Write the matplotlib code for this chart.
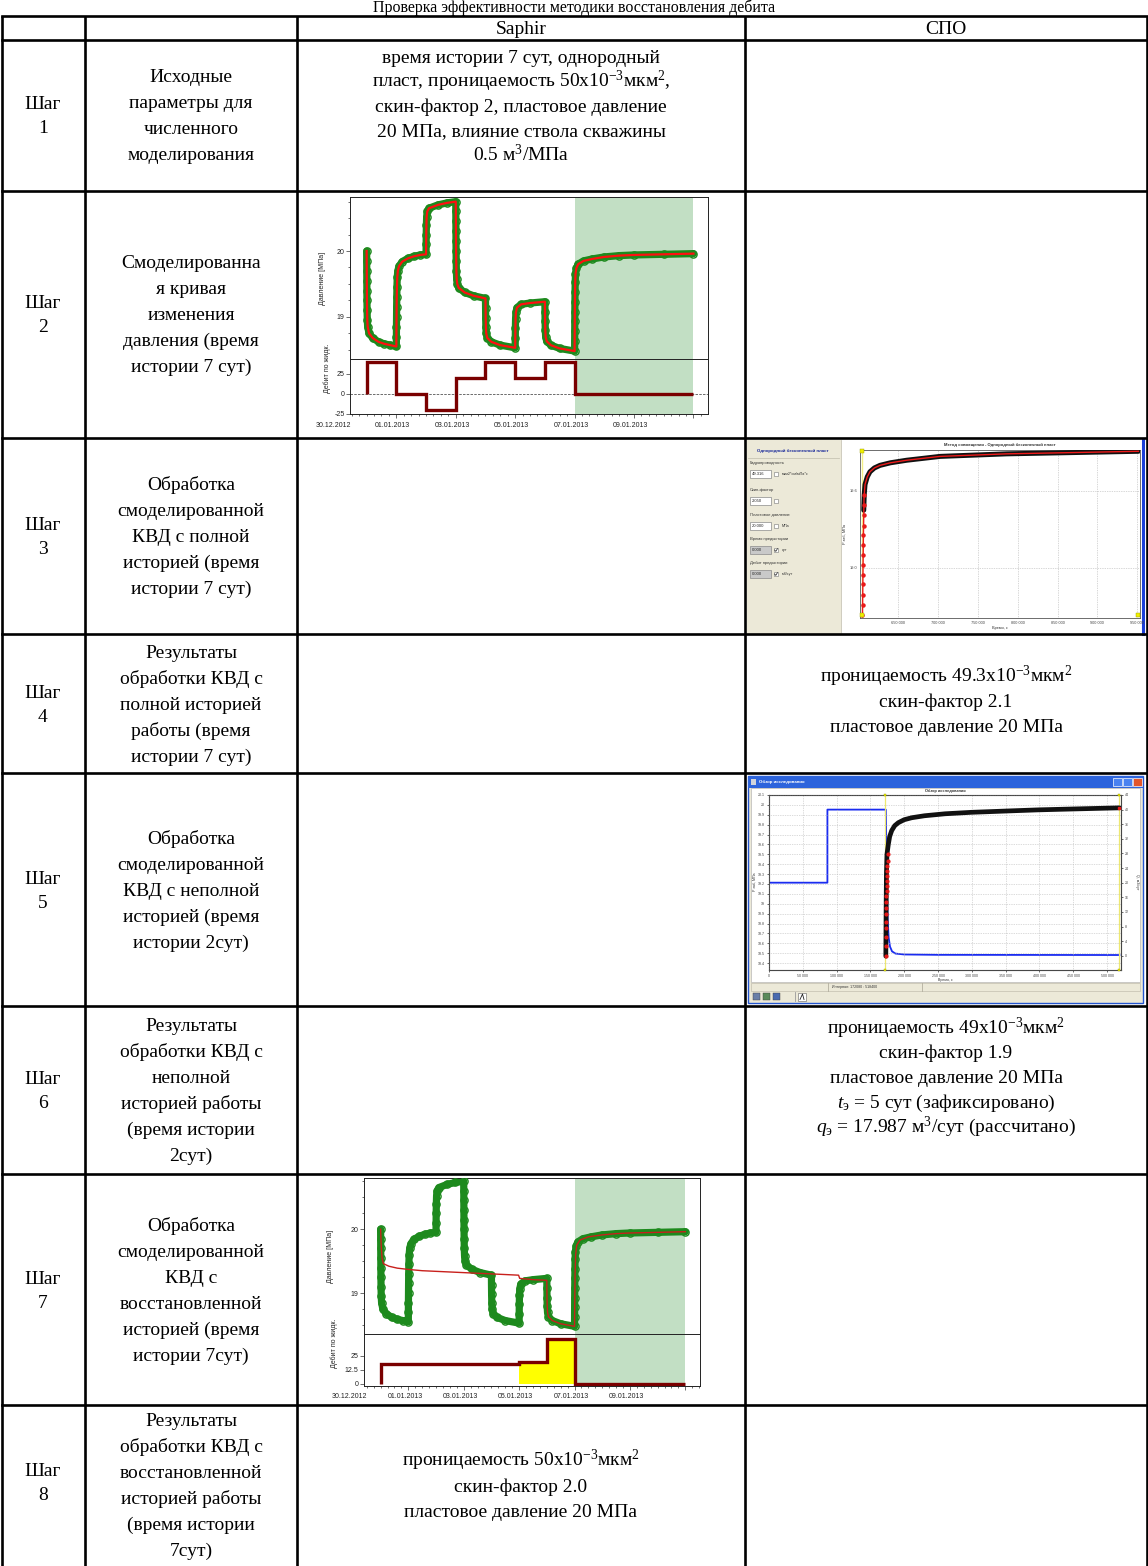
import numpy as np
import matplotlib
matplotlib.use("Agg")
import matplotlib.pyplot as plt
import matplotlib.transforms as mtrans
from matplotlib.patches import Rectangle

plt.rcParams['font.family'] = ['Liberation Sans', 'DejaVu Sans']
plt.rcParams['mathtext.fontset'] = 'custom'
plt.rcParams['mathtext.rm'] = 'Liberation Serif'
plt.rcParams['mathtext.it'] = 'Liberation Serif:italic'
plt.rcParams['mathtext.default'] = 'regular'

W, H = 1148, 1566
SERIF = 'Liberation Serif'

# ---------------------------------------------------------------- table text
TITLE = "Проверка эффективности методики восстановления дебита"
HEADERS = ["Saphir", "СПО"]
STEP_NUMBERS = ["1", "2", "3", "4", "5", "6", "7", "8"]
DESCRIPTIONS = [
    ["Исходные", "параметры для", "численного", "моделирования"],
    ["Смоделированна", "я кривая", "изменения", "давления (время", "истории 7 сут)"],
    ["Обработка", "смоделированной", "КВД с полной", "историей (время", "истории 7 сут)"],
    ["Результаты", "обработки КВД с", "полной историей", "работы (время", "истории 7 сут)"],
    ["Обработка", "смоделированной", "КВД с неполной", "историей (время", "истории 2сут)"],
    ["Результаты", "обработки КВД с", "неполной", "историей работы", "(время истории", "2сут)"],
    ["Обработка", "смоделированной", "КВД с", "восстановленной", "историей (время", "истории 7сут)"],
    ["Результаты", "обработки КВД с", "восстановленной", "историей работы", "(время истории", "7сут)"],
]
INPUT_PARAMS = [
    "время истории 7 сут, однородный",
    r"пласт, проницаемость 50x$10^{-3}$мк$м^{2}$,",
    "скин-фактор 2, пластовое давление",
    "20 МПа, влияние ствола скважины",
    r"0.5 $м^{3}$/МПа",
]
RESULT_FULL = [r"проницаемость 49.3x$10^{-3}$мк$м^{2}$", "скин-фактор 2.1",
               "пластовое давление 20 МПа"]
RESULT_PARTIAL = [r"проницаемость 49x$10^{-3}$мк$м^{2}$", "скин-фактор 1.9",
                  "пластовое давление 20 МПа",
                  r"$\mathit{t}_{э}$ = 5 сут (зафиксировано)",
                  r"$\mathit{q}_{э}$ = 17.987 $м^{3}$/сут (рассчитано)"]
RESULT_RESTORED = [r"проницаемость 50x$10^{-3}$мк$м^{2}$", "скин-фактор 2.0",
                   "пластовое давление 20 МПа"]

# ------------------------------------------- Saphir simulated pressure (days, MPa)
T_SIM = [1.000, 1.002, 1.004, 1.006, 1.008, 1.011, 1.015, 1.022, 1.035, 1.08, 1.20, 1.40, 1.60, 1.80, 2.00,
         2.002, 2.004, 2.007, 2.010, 2.014, 2.020, 2.030, 2.050, 2.09, 2.20, 2.40, 2.60, 2.80, 3.00,
         3.003, 3.006, 3.012, 3.020, 3.040, 3.10, 3.40, 3.70, 4.00,
         4.002, 4.004, 4.006, 4.008, 4.011, 4.015, 4.020, 4.030, 4.050, 4.10, 4.30, 4.60, 5.00,
         5.003, 5.007, 5.013, 5.025, 5.06, 5.20, 5.50, 6.00,
         6.003, 6.007, 6.013, 6.025, 6.06, 6.20, 6.50, 7.00,
         7.003, 7.007, 7.013, 7.025, 7.06, 7.20, 7.50, 8.00,
         8.002, 8.004, 8.006, 8.008, 8.011, 8.015, 8.020, 8.030, 8.060, 8.12, 8.30, 8.60,
         9.00, 9.50, 10.00, 11.00, 12.00]
P_SIM = [20.00, 19.85, 19.70, 19.55, 19.40, 19.25, 19.10, 18.95, 18.85, 18.75, 18.68, 18.62, 18.59, 18.57, 18.55,
         18.70, 18.85, 19.00, 19.15, 19.30, 19.45, 19.60, 19.70, 19.77, 19.84, 19.89, 19.92, 19.94, 19.95,
         20.10, 20.25, 20.40, 20.52, 20.60, 20.65, 20.70, 20.73, 20.75,
         20.60, 20.45, 20.30, 20.15, 20.00, 19.85, 19.70, 19.58, 19.50, 19.44, 19.37, 19.32, 19.28,
         19.13, 18.98, 18.85, 18.75, 18.68, 18.62, 18.57, 18.53,
         18.68, 18.83, 18.97, 19.07, 19.14, 19.19, 19.21, 19.23,
         19.08, 18.93, 18.80, 18.70, 18.63, 18.57, 18.52, 18.48,
         18.63, 18.78, 18.93, 19.08, 19.23, 19.38, 19.53, 19.65, 19.74, 19.80, 19.85, 19.88,
         19.91, 19.93, 19.94, 19.95, 19.96]

# Saphir rate history, m3/day on day intervals
Q_EDGES = [1, 2, 3, 4, 5, 6, 7, 8, 12]
Q_FULL = [40, 0, -20, 20, 40, 20, 40, 0]
# restored history (first 5 days estimated)
Q_EDGES_R = [1, 6, 7, 8, 12]
Q_RESTORED = [17.987, 20, 40, 0]
KNOWN_EDGES = [6, 7, 8]
Q_KNOWN = [20, 40]

# model with restored history (days, MPa)
T_MODEL7 = [1.00, 1.02, 1.05, 1.10, 1.30, 1.60, 2.00, 2.50, 3.00, 3.50, 4.00, 4.50, 5.00, 5.50, 5.98,
            6.02, 6.50, 7.00, 7.003, 7.007, 7.013, 7.025, 7.06, 7.20, 7.50, 8.00,
            8.01, 8.02, 8.04, 8.08, 8.20, 8.50, 9.00, 9.50, 10.00, 11.00, 12.00]
P_MODEL7 = [20.00, 19.75, 19.55, 19.46, 19.42, 19.39, 19.37, 19.35, 19.34, 19.33, 19.32, 19.31, 19.30, 19.29, 19.28,
            19.23, 19.21, 19.20, 19.08, 18.93, 18.80, 18.70, 18.63, 18.57, 18.52, 18.48,
            18.90, 19.30, 19.60, 19.75, 19.83, 19.88, 19.91, 19.93, 19.94, 19.95, 19.96]

DATE_TICKS = [0, 2, 4, 6, 8, 10]
DATE_LABELS = ["30.12.2012", "01.01.2013", "03.01.2013", "05.01.2013", "07.01.2013", "09.01.2013"]

# ------------------------------------- СПО: build-up with full history (s, MPa)
T3_MODEL = [605000, 605150, 605300, 605450, 605600, 605750, 605900, 606050, 606200,
            606400, 606600, 606800, 607000]
P3_MODEL = [18.63, 18.71, 18.79, 18.87, 18.94, 19.02, 19.10, 19.18, 19.26, 19.33, 19.41, 19.49, 19.57]
T3_MEAS = [606600, 607200, 608200, 611000, 614400, 620000, 627000, 640000, 660500,
           702400, 786200, 869900, 951600]
P3_MEAS = [19.45, 19.57, 19.65, 19.71, 19.75, 19.78, 19.80, 19.82, 19.84, 19.87, 19.89, 19.90, 19.91]
PANEL3_LABELS = ["Гидропроводность", "Скин-фактор", "Пластовое давление",
                 "Время предыстории", "Дебит предыстории"]
PANEL3_VALUES = ["49.316", "2.050", "20.000", "0.000", "0.000"]
PANEL3_UNITS = ["мкм2*см/мПа*с", "", "МПа", "сут", "м3/сут"]
PANEL3_FIXED = [False, False, False, True, True]

# ------------------------------------- СПО: build-up with partial history
T5_RATE = [0, 86400, 86400, 172800, 173500, 174500, 175500, 177000, 179000, 182000,
           187000, 200000, 250000, 518400]
Q5_RATE = [20, 20, 40, 40, 30, 18, 10, 5, 2.5, 1.2, 0.6, 0.35, 0.25, 0.2]
T5_MEAS = [172800, 173200, 173700, 174500, 176500, 178500, 181500, 186000, 191300,
           200000, 211100, 230000, 260400, 300000, 359000, 400000, 457600, 518400]
P5_MEAS = [18.47, 18.90, 19.30, 19.50, 19.60, 19.68, 19.74, 19.79, 19.82,
           19.85, 19.87, 19.89, 19.91, 19.925, 19.94, 19.95, 19.96, 19.97]
T5_MODEL = [172900, 173000, 173100, 173200, 173300, 173400, 173500, 173650, 173800,
            173950, 174100, 174300, 174500, 174800, 175100, 175500, 176000, 518400]
P5_MODEL = [18.47, 18.57, 18.66, 18.75, 18.82, 18.90, 18.96, 19.02, 19.08,
            19.13, 19.18, 19.23, 19.28, 19.33, 19.38, 19.43, 19.50, 19.97]

# ============================================================== figure
fig = plt.figure(figsize=(W / 100, H / 100), dpi=100)
base = fig.add_axes([0, 0, 1, 1])
base.set_xlim(0, W)
base.set_ylim(H, 0)
base.axis('off')


def px_axes(x0, y0, x1, y1):
    return fig.add_axes([x0 / W, 1 - y1 / H, (x1 - x0) / W, (y1 - y0) / H])


def cell_text(x, y_first, lines, step, size=14, **kw):
    for i, s in enumerate(lines):
        base.text(x, y_first + i * step, s, ha='center', va='baseline',
                  fontsize=size, family=SERIF, **kw)


# ---- table grid
COLS = [1.5, 85, 297, 745, 1146.5]
TOP = 16
ROWS = [40, 191, 438, 634, 773, 1006, 1174, 1405]
LW = 1.9
for x in COLS:
    base.plot([x, x], [TOP, H + 5], color='black', lw=LW, solid_capstyle='butt', zorder=5)
for y in [TOP] + ROWS:
    base.plot([COLS[0], COLS[-1]], [y, y], color='black', lw=LW, solid_capstyle='projecting', zorder=5)

base.text(574, 11.5, TITLE, ha='center', va='baseline', fontsize=11.5, family=SERIF)
base.text(521, 34, HEADERS[0], ha='center', va='baseline', fontsize=14, family=SERIF)
base.text(946, 34, HEADERS[1], ha='center', va='baseline', fontsize=14, family=SERIF)

step_centers = [115, 314, 536, 704, 890, 1090, 1290, 1482]
for c, num, desc in zip(step_centers, STEP_NUMBERS, DESCRIPTIONS):
    cell_text(43, c - 6, ["Шаг", num], 24)
    n = len(desc)
    first = c - (n - 1) * 13 + 6
    if num == "8":
        first = 1426
    cell_text(191, first, desc, 26)

cell_text(521, 63, INPUT_PARAMS, 24.5)
cell_text(946, 682, RESULT_FULL, 25)
cell_text(946, 1034, RESULT_PARTIAL, 24.5)
cell_text(521, 1466, RESULT_RESTORED, 25.5)

# ============================================================ Saphir panels
SHADE = '#c2dfc4'
GREEN = '#1d8a1d'
DARKRED = '#7a0000'


def saphir_frame(ax):
    for s in ax.spines.values():
        s.set_linewidth(0.7)
        s.set_color('#222222')
    ax.tick_params(which='both', direction='out', labelsize=5, width=0.5,
                   color='#333333', pad=1, labelcolor='#222222')
    ax.tick_params(which='major', length=3)
    ax.tick_params(which='minor', length=1.6)


def saphir_chart(pbox, qbox, xlim, plim, qlim, qticks, qlabels, shade_to,
                 p_label_x, q_label_x, model=None, restored=False):
    axp = px_axes(*pbox)
    axq = px_axes(*qbox)
    for ax in (axp, axq):
        ax.set_xlim(*xlim)
        ax.axvspan(8, shade_to, color=SHADE, lw=0, zorder=0)
        saphir_frame(ax)
    axp.set_ylim(*plim)
    axp.plot(T_SIM, P_SIM, color=GREEN, lw=5.2, zorder=2, solid_capstyle='round')
    axp.plot(T_SIM, P_SIM, ls='none', marker='o', ms=5.2, mfc='none', mec=GREEN,
             mew=1.0, zorder=3)
    if model is None:
        axp.plot(T_SIM, P_SIM, color='#ff1010', lw=1.6, zorder=4)
    else:
        axp.plot(model[0], model[1], color='#c8201c', lw=1.0, zorder=4)
    axp.set_xticks([])
    axp.set_yticks([19, 20])
    axp.set_yticks(np.arange(18.5, 20.8, 0.25), minor=True)

    axq.set_ylim(*qlim)
    if restored:
        axq.stairs(Q_KNOWN, KNOWN_EDGES, baseline=0, fill=True, color='#ffff00', zorder=1)
        axq.stairs(Q_RESTORED, Q_EDGES_R, baseline=0, color=DARKRED, lw=2.4, zorder=3)
    else:
        axq.axhline(0, color='#555555', lw=0.6, ls=(0, (3, 1.5)), zorder=1)
        axq.stairs(Q_FULL, Q_EDGES, baseline=0, color=DARKRED, lw=2.4, zorder=3)
    axq.set_yticks(qticks)
    axq.set_yticklabels(qlabels)
    axq.set_xticks([t for t in range(2, 13, 2)])
    axq.set_xticklabels([])
    axq.set_xticks(np.arange(0.5, xlim[1], 0.25), minor=True)
    tr = mtrans.blended_transform_factory(axq.transData, axq.transAxes)
    for t, lab in zip(DATE_TICKS, DATE_LABELS):
        axq.text(t - 0.12, -0.21, lab, transform=tr, ha='center', va='center',
                 fontsize=5, color='#222222', clip_on=False)

    yc = (pbox[1] + pbox[3]) / 2
    base.text(p_label_x, yc, "Давление [МПа]", rotation=90, ha='center', va='center',
              fontsize=5, color='#222222')
    lab = base.text(q_label_x, qbox[1] + 9, "Дебит по жидк.", rotation=90,
                    ha='center', va='center', fontsize=5, color='#222222')
    clip = Rectangle((q_label_x - 8, qbox[1] + 1), 16, qbox[3] - qbox[1],
                     transform=base.transData)
    lab.set_clip_path(clip)
    return axp, axq


# step 2: simulated curve
saphir_chart((350, 197, 708, 359), (350, 359, 708, 414), (0.44, 12.49),
             (18.36, 20.82), (-25, 43.75), [-25, 0, 25], ["-25", "0", "25"], 12,
             322, 327)

# step 7: processing with restored history
saphir_chart((364, 1178, 700, 1334), (364, 1334, 700, 1386), (0.40, 12.53),
             (18.36, 20.80), (-1.8, 44.6), [0, 12.5, 25], ["0", "12.5", "25"], 12,
             331, 334, model=(T_MODEL7, P_MODEL7), restored=True)

# ============================================================ СПО screenshots
PANEL = '#ece9d8'
SMALL = 3.0

# ---- step 3: matching window
base.add_patch(Rectangle((746.5, 439.5), 94, 194, fc=PANEL, ec='none', zorder=1))
base.add_patch(Rectangle((840.5, 439.5), 300, 194, fc='white', ec='none', zorder=1))
base.plot([840.5, 840.5], [440, 633], color='#c8c4b4', lw=0.6, zorder=2)
base.plot([748, 839], [458, 458], color='#c8c4b4', lw=0.6, zorder=2)
base.text(793, 451, "Однородный бесконечный пласт", ha='center', va='center',
          fontsize=3.2, color='#1a2a9a', fontweight='bold', zorder=3)
label_y = [463, 490, 515, 539, 563]
for y, lab, val, unit, fixed in zip(label_y, PANEL3_LABELS, PANEL3_VALUES,
                                    PANEL3_UNITS, PANEL3_FIXED):
    base.text(750, y, lab, ha='left', va='center', fontsize=SMALL, color='#333333', zorder=3)
    base.add_patch(Rectangle((750, y + 7), 21, 8, fc='#c9c9c9' if fixed else 'white',
                             ec='#8a8a8a', lw=0.5, zorder=3))
    base.text(752, y + 11, val, ha='left', va='center', fontsize=SMALL, color='#222222', zorder=4)
    base.add_patch(Rectangle((774, y + 9), 4, 4, fc='white', ec='#777777', lw=0.4, zorder=3))
    if fixed:
        base.plot([774.6, 775.8, 777.5], [y + 11, y + 12.4, y + 9.6], color='#222222', lw=0.5, zorder=4)
    if unit:
        base.text(782, y + 11, unit, ha='left', va='center', fontsize=2.7, color='#333333', zorder=3)

ax3 = px_axes(860, 450, 1140, 618)
ax3.set_xlim(601900, 953600)
ax3.set_ylim(18.608, 19.92)
for s in ax3.spines.values():
    s.set_linewidth(0.6)
    s.set_color('#555555')
ax3.set_xticks(np.arange(650000, 950001, 50000))
ax3.set_xticklabels([f"{int(v):,}".replace(",", " ") for v in np.arange(650000, 950001, 50000)])
ax3.set_yticks([19.0, 19.6])
ax3.set_yticklabels(["19.0", "19.6"])
ax3.tick_params(labelsize=2.8, length=0, pad=2, labelcolor='#444444')
ax3.grid(True, color='#b0b0b0', lw=0.5, ls=(0, (1, 1.5)))
ax3.axvline(605000, color='#f4f088', lw=1.0, zorder=2)
ax3.plot(T3_MEAS, P3_MEAS, color='#111111', lw=3.6, zorder=3, solid_capstyle='round')
ax3.plot(T3_MODEL + T3_MEAS[1:], P3_MODEL + P3_MEAS[1:], color='#ee1a1a', lw=1.0, zorder=4)
ax3.plot(T3_MODEL, P3_MODEL, ls='none', marker='o', ms=2.2, color='#e81818', zorder=5)
ax3.plot([605000, 605000, 951600], [19.91, 18.63, 18.63], ls='none', marker='s', ms=2.2,
         mfc='#f0f000', mec='#999900', mew=0.3, zorder=6, clip_on=False)
base.text(1000, 445, "Метод совмещения - Однородный бесконечный пласт", ha='center',
          va='center', fontsize=3.0, fontweight='bold', color='#333333', zorder=3)
base.text(845, 534, "P заб, МПа", rotation=90, ha='center', va='center', fontsize=2.8,
          color='#333333', zorder=3)
base.text(1000, 628.5, "Время, с", ha='center', va='center', fontsize=2.8, color='#333333', zorder=3)
base.plot([1142.5, 1142.5], [439, 634], color='#1c3fd8', lw=2.2, zorder=4)

# ---- step 5: survey overview window
wx0, wy0, wx1, wy1 = 748, 775.5, 1143, 1003
base.add_patch(Rectangle((wx0, wy0), wx1 - wx0, wy1 - wy0, fc=PANEL, ec='#2456d0', lw=1.0, zorder=1))
base.add_patch(Rectangle((wx0, wy0), wx1 - wx0, 12, fc='#2d64dc', ec='none', zorder=2))
base.add_patch(Rectangle((751, wy0 + 3), 5, 6, fc='#d0d4dc', ec='none', zorder=3))
base.text(759, wy0 + 6, "Обзор исследования", ha='left', va='center', fontsize=3.2,
          color='white', fontweight='bold', zorder=3)
for bx, col in ((1113, '#4a82f0'), (1123, '#4a82f0'), (1133, '#e2562c')):
    base.add_patch(Rectangle((bx, wy0 + 2), 8.5, 8, fc=col, ec='white', lw=0.5, zorder=3))
base.add_patch(Rectangle((751, 788), 389, 194, fc='white', ec='#a8a8a8', lw=0.4, zorder=2))
base.add_patch(Rectangle((751, 983), 389, 8, fc=PANEL, ec='#b8b4a4', lw=0.4, zorder=2))
base.plot([828, 828], [983, 991], color='#a8a494', lw=0.5, zorder=3)
base.plot([922, 922], [983, 991], color='#a8a494', lw=0.5, zorder=3)
base.text(832, 987, "Интервал: 172080 : 518400", ha='left', va='center', fontsize=2.6,
          color='#333333', zorder=3)
for ix, col in ((753, '#6a7fa8'), (763, '#5a8a5a'), (773, '#4a6ab0')):
    base.add_patch(Rectangle((ix, 993), 7, 6.5, fc=col, ec='#404040', lw=0.3, zorder=3))
base.plot([795, 795], [992, 1001], color='#9a9a9a', lw=0.6, zorder=3)
base.add_patch(Rectangle((798, 992.5), 8, 8, fc='white', ec='#606060', lw=0.4, zorder=3))
base.plot([800, 802.5, 804], [999.5, 994, 999.5], color='#222222', lw=0.6, zorder=4)

ax5 = px_axes(769, 795, 1121, 970)
ax5.set_xlim(0, 520700)
ax5.set_ylim(18.33, 20.1)
p_ticks = np.round(np.arange(18.4, 20.101, 0.1), 1)
ax5.set_yticks(p_ticks)
ax5.set_yticklabels([f"{v:g}" for v in p_ticks])
x5_ticks = np.arange(0, 500001, 50000)
ax5.set_xticks(x5_ticks)
ax5.set_xticklabels([f"{int(v):,}".replace(",", " ") for v in x5_ticks])
ax5.tick_params(labelsize=2.6, length=1.2, width=0.4, pad=1.5, labelcolor='#444444')
ax5.grid(True, color='#b8b8b8', lw=0.5, ls=(0, (1, 1.5)))
for s in ax5.spines.values():
    s.set_linewidth(0.6)
    s.set_color('#555555')
ax5r = ax5.twinx()
ax5r.set_ylim(-3.9, 44)
q_ticks = np.arange(0, 45, 4)
ax5r.set_yticks(q_ticks)
ax5r.set_yticklabels([str(v) for v in q_ticks])
ax5r.tick_params(labelsize=2.6, length=1.2, width=0.4, pad=1.5, labelcolor='#444444')
ax5r.plot(T5_RATE, Q5_RATE, color='#1a2cf0', lw=1.3, zorder=2)
ax5.axvline(172080, color='#eee870', lw=0.9, zorder=1)
ax5.axvline(518400, color='#eee870', lw=0.9, zorder=1)
ax5.plot([172080, 172080, 518400, 518400], [20.1, 18.33, 20.1, 18.33], ls='none', marker='s',
         ms=1.8, mfc='#f0f000', mec='#999900', mew=0.3, clip_on=False, zorder=6)
ax5.set_zorder(ax5r.get_zorder() + 1)
ax5.patch.set_visible(False)
ax5r.patch.set_facecolor('white')
ax5.plot(T5_MEAS, P5_MEAS, color='#111111', lw=3.4, zorder=3, solid_capstyle='round')
ax5.plot(T5_MODEL[:-1], P5_MODEL[:-1], ls='none', marker='o', ms=2.0, color='#e41818', zorder=4)
ax5.plot(T5_MODEL[-1:], P5_MODEL[-1:], ls='none', marker='s', ms=2.0, color='#e41818', zorder=4)
base.text(945, 791, "Обзор исследования", ha='center', va='center', fontsize=2.8,
          fontweight='bold', color='#333333', zorder=3)
base.text(755, 882, "P заб, МПа", rotation=90, ha='center', va='center', fontsize=2.6,
          color='#333333', zorder=3)
base.text(1137, 882, "Q, м3/сут", rotation=270, ha='center', va='center', fontsize=2.6,
          color='#333333', zorder=3)
base.text(945, 979.5, "Время, с", ha='center', va='center', fontsize=2.6, color='#333333', zorder=3)

fig.savefig("out.png", dpi=100)
